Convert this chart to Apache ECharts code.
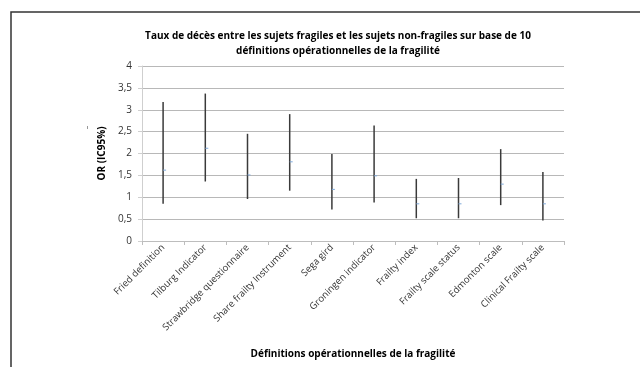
<!DOCTYPE html>
<html>
<head>
<meta charset="utf-8">
<script src="https://cdn.jsdelivr.net/npm/echarts@6/dist/echarts.min.js"></script>
<style>
    html, body { margin: 0; padding: 0; background: #fff; }
    #main { width: 640px; height: 367px; }
</style>
</head>
<body>
<div id="main"></div>
<script>
// définitions opérationnelles
let categories = ['Fried definition', 'Tilburg Indicator', 'Strawbridge questionnaire', 'Share frailty Instrument',
    'Sega gird', 'Groningen indicator', 'Frailty index', 'Frailty scale status', 'Edmonton scale', 'Clinical Frailty scale'];
// OR et IC95%
let orValues = [1.62, 2.12, 1.51, 1.81, 1.18, 1.49, 0.85, 0.85, 1.30, 0.85];
let lowerCI = [0.85, 1.36, 0.96, 1.15, 0.72, 0.88, 0.52, 0.52, 0.82, 0.47];
let upperCI = [3.18, 3.37, 2.45, 2.90, 1.99, 2.64, 1.42, 1.44, 2.10, 1.58];
let yTicks = [0, 0.5, 1, 1.5, 2, 2.5, 3, 3.5, 4];

let font = '"Open Sans", "Liberation Sans", sans-serif';

let chart = echarts.init(document.getElementById('main'));

let data = categories.map((c, i) => [i, lowerCI[i], upperCI[i], orValues[i]]);

let option = {
    animation: false,
    title: {
        text: 'Taux de décès entre les sujets fragiles et les sujets non-fragiles sur base de 10\ndéfinitions opérationnelles de la fragilité',
        left: 333,
        top: 24,
        textAlign: 'center',
        textStyle: {
            fontFamily: font,
            fontSize: 10,
            fontWeight: 'bold',
            color: '#000',
            lineHeight: 15
        }
    },
    grid: {
        left: 142,
        right: 76,
        top: 66,
        bottom: 126
    },
    xAxis: {
        type: 'category',
        data: categories,
        name: 'Définitions opérationnelles de la fragilité',
        nameLocation: 'middle',
        nameGap: 108,
        nameTextStyle: {
            fontFamily: font,
            fontSize: 10,
            fontWeight: 'bold',
            color: '#000'
        },
        axisLine: { lineStyle: { color: '#bdbdbd', width: 1 } },
        axisTick: { show: true, interval: 0, length: 4, lineStyle: { color: '#bdbdbd' } },
        axisLabel: {
            interval: 0,
            rotate: 45,
            margin: 5,
            fontFamily: font,
            fontSize: 9.5,
            color: '#333'
        },
        splitLine: { show: false }
    },
    yAxis: {
        type: 'value',
        min: 0,
        max: 4,
        interval: 0.5,
        name: 'OR (IC95%)',
        nameLocation: 'middle',
        nameGap: 29,
        nameRotate: 90,
        nameTextStyle: {
            fontFamily: font,
            fontSize: 10,
            fontWeight: 'bold',
            color: '#000'
        },
        axisLine: { show: true, lineStyle: { color: '#cfcfcf', width: 1 } },
        axisTick: { show: true, length: 4, lineStyle: { color: '#cfcfcf' } },
        axisLabel: {
            margin: 10,
            fontFamily: font,
            fontSize: 10,
            color: '#333',
            formatter: v => yTicks.indexOf(v) >= 0 ? String(v).replace('.', ',') : ''
        },
        splitLine: { lineStyle: { color: '#b8b8b8', width: 1 } }
    },
    series: [{
        type: 'custom',
        data: data,
        renderItem: function (params, api) {
            let x = api.value(0);
            let lo = api.coord([x, api.value(1)]);
            let hi = api.coord([x, api.value(2)]);
            let mid = api.coord([x, api.value(3)]);
            return {
                type: 'group',
                children: [{
                    type: 'line',
                    shape: { x1: lo[0], y1: lo[1], x2: hi[0], y2: hi[1] },
                    style: { stroke: '#3a3a3a', lineWidth: 1.5 }
                }, {
                    type: 'line',
                    shape: { x1: mid[0], y1: mid[1], x2: mid[0] + 3, y2: mid[1] },
                    style: { stroke: '#7fa9da', lineWidth: 1 }
                }]
            };
        }
    }],
    graphic: [{
        type: 'polyline',
        shape: { points: [[11, 367], [11, 12], [640, 12]] },
        style: { stroke: '#333', lineWidth: 1.5, fill: null }
    }, {
        type: 'line',
        shape: { x1: 87.5, y1: 126, x2: 87.5, y2: 129 },
        style: { stroke: '#999', lineWidth: 1 }
    }]
};

chart.setOption(option);
</script>
</body>
</html>
